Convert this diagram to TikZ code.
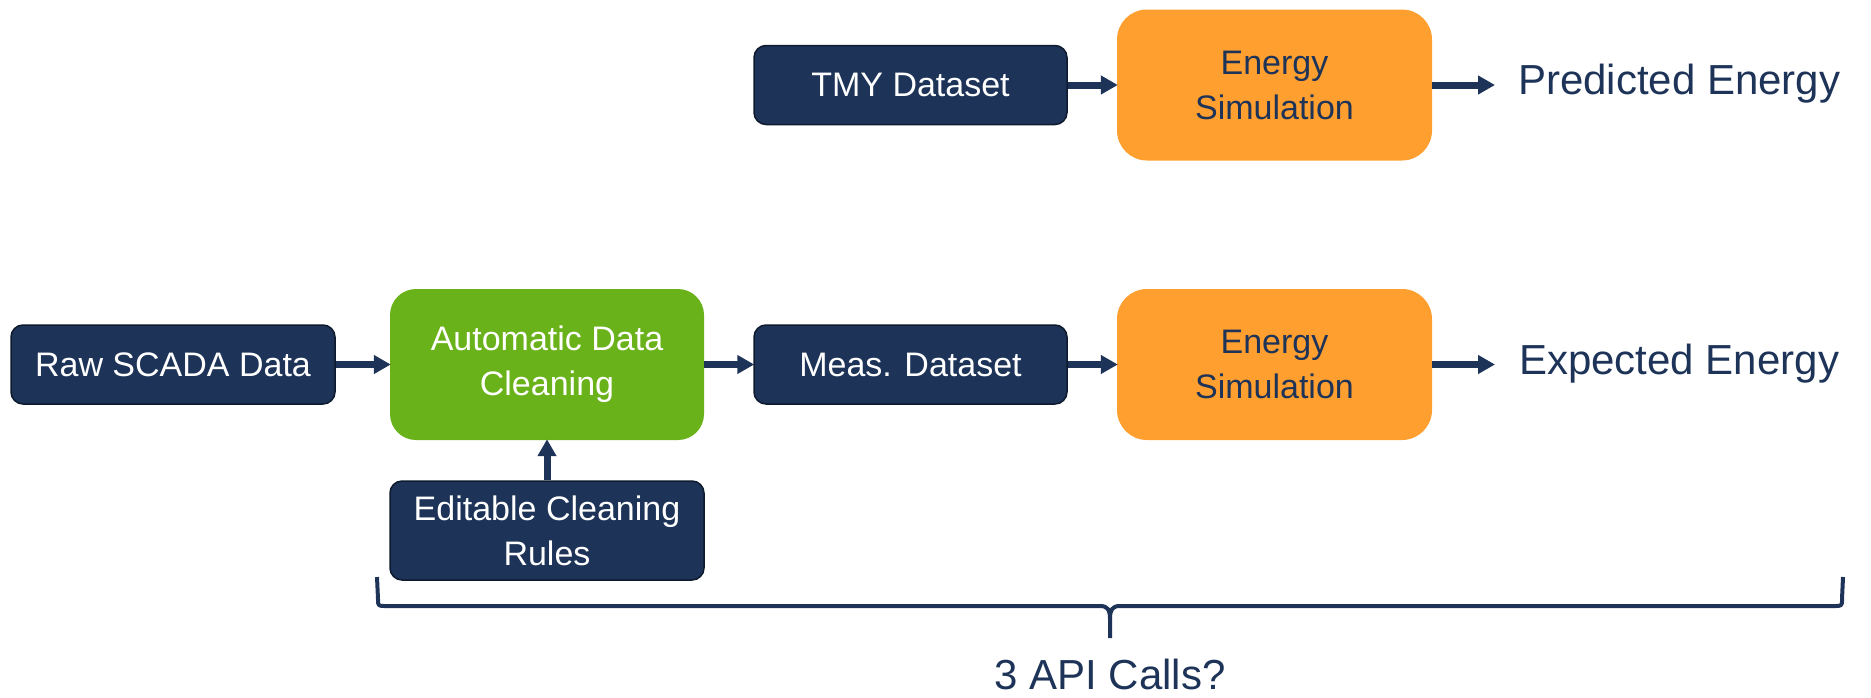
\documentclass[tikz,border=0pt]{standalone}
\usepackage{fontspec}
\setmainfont{Liberation Sans}
\usetikzlibrary{arrows.meta}
\definecolor{navy}{HTML}{1D3358}
\definecolor{navyedge}{HTML}{0E1A2E}
\definecolor{simorange}{HTML}{FF9F2F}
\definecolor{cleangreen}{HTML}{69B21A}
\tikzset{
  box/.style={rectangle, align=center, inner sep=0pt,
    font=\fontsize{34}{45}\selectfont},
  datbox/.style={box, fill=navy, draw=navyedge, line width=1.5pt,
    rounded corners=12pt, text=white, minimum width=313pt, minimum height=79pt},
  simbox/.style={box, fill=simorange, rounded corners=30pt, text=navy,
    minimum width=315pt, minimum height=151pt},
  procbox/.style={box, fill=cleangreen, rounded corners=26pt, text=white,
    minimum width=314pt, minimum height=151pt},
  outtext/.style={anchor=west, inner sep=0pt, text=navy,
    font=\fontsize{42}{50}\selectfont},
  flow/.style={draw=navy, line width=7pt,
    -{Triangle[length=17pt,width=18pt]}, shorten >=-1pt},
}
\begin{document}
\begin{tikzpicture}[x=1pt,y=-1pt]
  \useasboundingbox (0,0) rectangle (1871,697);

  % upper chain: typical-year weather to predicted energy
  \node[datbox] (tmy) at (910.5,85) {TMY Dataset};
  \node[simbox] (sim1) at (1274.5,85) {Energy\\Simulation};
  \node[outtext] (pred) at (1518,84) {Predicted Energy};
  \coordinate (pend) at (1494,85);

  % lower chain: measured data to expected energy
  \node[datbox, minimum width=324pt] (raw) at (173,364.5) {Raw SCADA Data};
  \node[procbox] (clean) at (547,364.5) {Automatic Data\\Cleaning};
  \node[datbox, minimum width=314pt, minimum height=99pt] (rules) at (547,530.5) {Editable Cleaning\\Rules};
  \node[datbox] (meas) at (910.5,364.5) {Meas. Dataset};
  \node[simbox] (sim2) at (1274.5,364.5) {Energy\\Simulation};
  \node[outtext] (expd) at (1519,364) {Expected Energy};
  \coordinate (eend) at (1494,364.5);

  \draw[flow] (tmy.east) -- (sim1.west);
  \draw[flow] (sim1.east) -- (pend);
  \draw[flow] (raw.east) -- (clean.west);
  \draw[flow] (clean.east) -- (meas.west);
  \draw[flow] (meas.east) -- (sim2.west);
  \draw[flow] (sim2.east) -- (eend);
  \draw[flow] (rules.north) -- (clean.south);

  % brace grouping the lower chain
  \coordinate (bl) at (377,577);
  \coordinate (br) at (1843,577);
  \coordinate (bt) at (1110,638);
  \draw[navy, line width=4pt, line join=round]
    (bl) -- (378,599) .. controls (378,606) .. (386,606)
    -- (1100,606) .. controls (1108,606) and (1110,610) .. (1110,619) -- (bt);
  \draw[navy, line width=4pt, line join=round]
    (br) -- (1842,599) .. controls (1842,606) .. (1834,606)
    -- (1120,606) .. controls (1112,606) and (1110,610) .. (1110,619);
  \node[text=navy, inner sep=0pt, font=\fontsize{42}{50}\selectfont] (api) at (1110,674) {3 API Calls?};
\end{tikzpicture}
\end{document}
